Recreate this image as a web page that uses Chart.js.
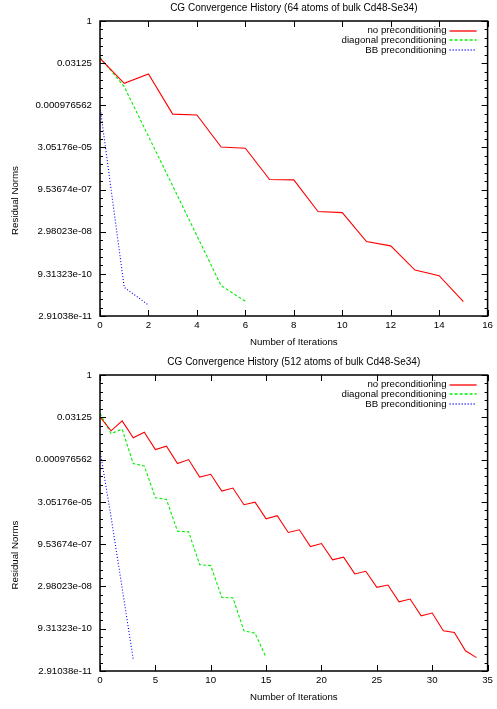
<!DOCTYPE html>
<html>
<head>
<meta charset="utf-8">
<script src="https://cdn.jsdelivr.net/npm/chart.js@4.4.1/dist/chart.umd.min.js"></script>
<style>
  body { margin: 0; background: #fff; }
  canvas { display: block; }
</style>
</head>
<body>
<canvas id="chart64" width="497" height="354"></canvas>
<canvas id="chart512" width="497" height="355"></canvas>
<script>
// y axis: powers of 2 every 2^-5
const yTickValues = [2.91038e-11, 9.31323e-10, 2.98023e-08, 9.53674e-07, 3.05176e-05, 0.000976562, 0.03125, 1];
const yTickLabels = ['2.91038e-11', '9.31323e-10', '2.98023e-08', '9.53674e-07', '3.05176e-05', '0.000976562', '0.03125', '1'];

const seriesNames = ['no preconditioning', 'diagonal preconditioning', 'BB preconditioning'];
const seriesColors = ['#ff0000', '#00f000', '#0000ff'];
const seriesDash = [[], [3, 2], [1, 2]];

const titles = ['CG Convergence History (64 atoms of bulk Cd48-Se34)', 'CG Convergence History (512 atoms of bulk Cd48-Se34)'];

// 64 atoms
const noPrec64 = [0.0461, 0.00596, 0.01278, 4.72e-4, 4.40e-4, 3.16e-5, 2.85e-5, 2.19e-6, 2.12e-6, 1.57e-7,
  1.43e-7, 1.33e-8, 9.30e-9, 1.27e-9, 7.99e-10, 9.52e-11];
const diagPrec64 = [0.0501, 0.00452, 7.62e-5, 1.29e-6, 2.14e-8, 3.53e-10, 9.79e-11];
const bbPrec64 = [8.80e-4, 3.07e-10, 7.17e-11];

// 512 atoms
const noPrec512 = [0.03235, 0.01031, 0.02335, 0.0058, 0.00922, 0.00221, 0.00292, 7.00e-4, 9.77e-4, 2.34e-4,
  2.92e-4, 7.41e-5, 9.45e-5, 2.41e-5, 2.99e-5, 7.63e-6, 9.80e-6, 2.48e-6, 3.10e-6, 7.86e-7,
  1.00e-6, 2.63e-7, 3.26e-7, 8.31e-8, 1.03e-7, 2.76e-8, 3.35e-8, 8.49e-9, 1.06e-8, 2.69e-9,
  3.36e-9, 7.83e-10, 6.82e-10, 1.52e-10, 8.70e-11];
const diagPrec512 = [0.0427, 0.00825, 0.01176, 7.00e-4, 5.76e-4, 4.29e-5, 3.73e-5, 2.75e-6, 2.61e-6, 1.78e-7,
  1.64e-7, 1.21e-8, 1.17e-8, 7.83e-10, 6.45e-10, 8.70e-11];
const bbPrec512 = [0.00209, 8.76e-6, 2.60e-8, 7.68e-11];

const xMax = [16, 35];
const xStep = [2, 5];

const FONT = "'Liberation Sans', Arial, Helvetica, sans-serif";
const FS = 9.7;

// gnuplot-ish frame, inward ticks, title, ylabel and legend
const gnuFrame = {
  id: 'gnuFrame',
  afterDraw(chart, args, opts) {
    const { ctx, chartArea: a, scales: { x, y } } = chart;
    ctx.save();
    ctx.strokeStyle = '#000';
    ctx.lineWidth = 1;
    ctx.beginPath();
    for (let k = 0; k <= 35; k++) {
      const py = Math.round(y.getPixelForValue(Math.pow(2, -k))) + 0.5;
      const len = k % 5 === 0 ? 6 : 3;
      ctx.moveTo(a.left, py); ctx.lineTo(a.left + len, py);
      ctx.moveTo(a.right, py); ctx.lineTo(a.right - len, py);
    }
    x.ticks.forEach(t => {
      const px = Math.round(x.getPixelForValue(t.value)) + 0.5;
      ctx.moveTo(px, a.bottom); ctx.lineTo(px, a.bottom - 6);
      ctx.moveTo(px, a.top); ctx.lineTo(px, a.top + 6);
    });
    ctx.stroke();
    ctx.lineWidth = 1.5;
    ctx.strokeRect(a.left, a.top, a.right - a.left, a.bottom - a.top);

    ctx.fillStyle = '#000';
    ctx.textBaseline = 'middle';
    ctx.textAlign = 'center';
    ctx.font = '10px ' + FONT;
    ctx.fillText(opts.title, (a.left + a.right) / 2, 8);

    ctx.font = FS + 'px ' + FONT;
    ctx.save();
    ctx.translate(15, (a.top + a.bottom) / 2 + 32);
    ctx.rotate(-Math.PI / 2);
    ctx.fillText('Residual Norms', 0, 0);
    ctx.restore();

    ctx.textAlign = 'right';
    seriesNames.forEach((name, i) => {
      const ly = a.top + 9.5 + 9.8 * i;
      ctx.fillStyle = '#000';
      ctx.fillText(name, a.right - 41, ly);
      const yy = Math.round(ly);
      ctx.beginPath();
      ctx.setLineDash(seriesDash[i]);
      ctx.strokeStyle = seriesColors[i];
      ctx.lineWidth = 1.3;
      ctx.moveTo(a.right - 38, yy);
      ctx.lineTo(a.right - 11, yy);
      ctx.stroke();
      ctx.setLineDash([]);
    });
    ctx.restore();
  }
};

function makeChart(id, idx, series) {
  const datasets = series.map((vals, i) => ({
    label: seriesNames[i],
    data: vals.map((v, n) => ({ x: n, y: v })),
    borderColor: seriesColors[i],
    borderDash: seriesDash[i],
    borderWidth: 1.1,
    pointRadius: 0,
    tension: 0,
    fill: false
  }));

  return new Chart(document.getElementById(id), {
    type: 'line',
    data: { datasets: datasets },
    plugins: [gnuFrame],
    options: {
      responsive: false,
      animation: false,
      layout: { padding: { top: 21, right: 7, left: 0, bottom: 0 } },
      plugins: {
        legend: { display: false },
        tooltip: { enabled: false },
        gnuFrame: { title: titles[idx] }
      },
      scales: {
        x: {
          type: 'linear',
          min: 0,
          max: xMax[idx],
          ticks: { stepSize: xStep[idx], color: '#000', font: { family: FONT, size: FS }, padding: 4, maxRotation: 0 },
          grid: { display: false, drawTicks: false },
          border: { display: false },
          title: { display: true, text: 'Number of Iterations', color: '#000', font: { family: FONT, size: FS }, padding: { top: 0, bottom: 6 } },
          afterFit(scale) { scale.height = 38; }
        },
        y: {
          type: 'logarithmic',
          min: yTickValues[0],
          max: 1,
          afterBuildTicks(scale) { scale.ticks = yTickValues.map(v => ({ value: v })); },
          ticks: {
            autoSkip: false,
            color: '#000',
            font: { family: FONT, size: FS },
            padding: 8,
            callback: (value, i) => yTickLabels[i]
          },
          grid: { display: false, drawTicks: false },
          border: { display: false },
          afterFit(scale) { scale.width = 100; }
        }
      }
    }
  });
}

makeChart('chart64', 0, [noPrec64, diagPrec64, bbPrec64]);
makeChart('chart512', 1, [noPrec512, diagPrec512, bbPrec512]);
</script>
</body>
</html>
